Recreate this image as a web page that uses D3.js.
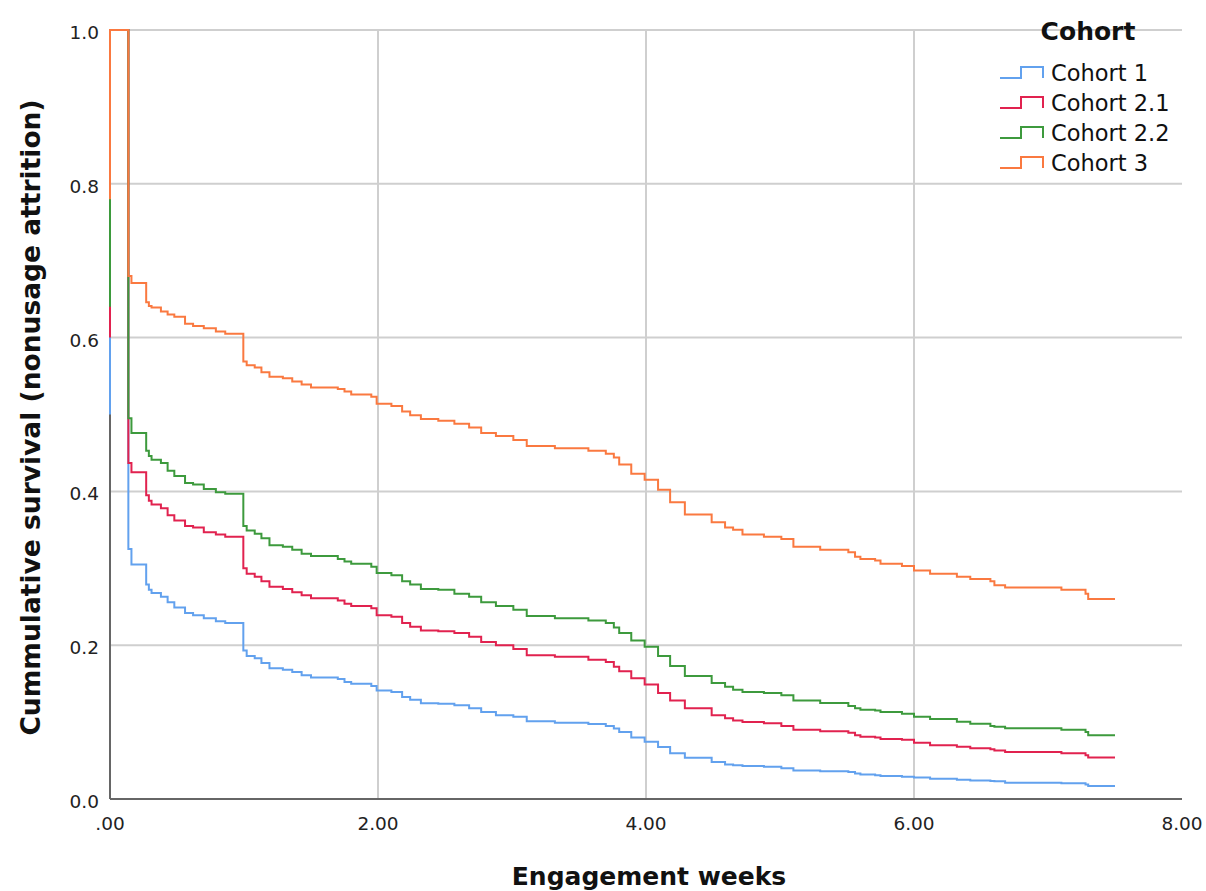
<!DOCTYPE html>
<html>
<head>
<meta charset="utf-8">
<script src="https://cdn.jsdelivr.net/npm/d3@7"></script>
<style>
  body { margin: 0; background: #fff; }
  svg { display: block; font-family: "DejaVu Sans", sans-serif; }
</style>
</head>
<body>
<svg id="chart"></svg>
<script>
const width = 1206;
const height = 891;

// event times (weeks) shared by all cohorts
const weeks = [0.137, 0.16, 0.27, 0.29, 0.31, 0.38, 0.43, 0.48, 0.56, 0.62, 0.70, 0.79, 0.86,
  0.995, 1.02, 1.08, 1.13, 1.19, 1.29, 1.36, 1.43, 1.50, 1.70, 1.75, 1.80, 1.95, 1.99,
  2.10, 2.18, 2.24, 2.32, 2.45, 2.57, 2.68, 2.77, 2.88, 3.01, 3.11, 3.32, 3.57, 3.70,
  3.76, 3.80, 3.89, 3.99, 4.09, 4.18, 4.29, 4.49, 4.59, 4.65, 4.72, 4.88, 5.01, 5.10,
  5.30, 5.51, 5.56, 5.60, 5.71, 5.75, 5.91, 6.00, 6.12, 6.32, 6.42, 6.57, 6.60, 6.68,
  7.10, 7.28, 7.30];
const lastWeek = 7.5;

const cohorts = ["Cohort 1", "Cohort 2.1", "Cohort 2.2", "Cohort 3"];
const colors = ["#62a1ee", "#e1224f", "#3d9a3d", "#fa7940"];
// survival at time zero (drop drawn on the y axis)
const startValues = [0.50, 0.60, 0.64, 0.78];

const cohort1 = [0.325, 0.305, 0.279, 0.272, 0.268, 0.263, 0.256, 0.249, 0.242, 0.239, 0.235, 0.231, 0.229,
  0.193, 0.186, 0.183, 0.177, 0.170, 0.168, 0.165, 0.161, 0.158, 0.156, 0.152, 0.150, 0.147, 0.141,
  0.139, 0.1325, 0.129, 0.1245, 0.124, 0.122, 0.118, 0.113, 0.109, 0.107, 0.101, 0.099, 0.0975, 0.095,
  0.0916, 0.087, 0.080, 0.0744, 0.0675, 0.0596, 0.0535, 0.048, 0.045, 0.044, 0.043, 0.042, 0.040, 0.037,
  0.036, 0.035, 0.033, 0.032, 0.031, 0.030, 0.029, 0.028, 0.0264, 0.025, 0.024, 0.0234, 0.023, 0.021,
  0.0204, 0.019, 0.017];
const cohort21 = [0.437, 0.425, 0.395, 0.388, 0.383, 0.378, 0.369, 0.362, 0.355, 0.353, 0.347, 0.344, 0.341,
  0.300, 0.293, 0.289, 0.283, 0.276, 0.273, 0.269, 0.265, 0.261, 0.258, 0.254, 0.251, 0.248, 0.239,
  0.237, 0.229, 0.224, 0.219, 0.218, 0.216, 0.211, 0.204, 0.200, 0.195, 0.187, 0.185, 0.181, 0.178,
  0.172, 0.166, 0.157, 0.149, 0.138, 0.128, 0.118, 0.109, 0.105, 0.102, 0.100, 0.0986, 0.095, 0.090,
  0.088, 0.086, 0.083, 0.081, 0.080, 0.078, 0.077, 0.073, 0.070, 0.068, 0.066, 0.0646, 0.063, 0.061,
  0.0594, 0.057, 0.054];
const cohort22 = [0.495, 0.476, 0.453, 0.446, 0.441, 0.437, 0.427, 0.420, 0.411, 0.409, 0.403, 0.399, 0.397,
  0.355, 0.349, 0.345, 0.339, 0.330, 0.328, 0.324, 0.319, 0.316, 0.312, 0.309, 0.306, 0.302, 0.294,
  0.291, 0.283, 0.279, 0.273, 0.272, 0.267, 0.263, 0.256, 0.251, 0.246, 0.238, 0.235, 0.232, 0.229,
  0.223, 0.216, 0.206, 0.198, 0.186, 0.173, 0.160, 0.151, 0.146, 0.142, 0.139, 0.138, 0.135, 0.128,
  0.125, 0.121, 0.118, 0.116, 0.115, 0.113, 0.111, 0.107, 0.104, 0.1005, 0.098, 0.095, 0.094, 0.092,
  0.090, 0.087, 0.083];
const cohort3 = [0.680, 0.671, 0.646, 0.641, 0.639, 0.634, 0.630, 0.627, 0.618, 0.615, 0.612, 0.608, 0.605,
  0.569, 0.564, 0.561, 0.555, 0.549, 0.547, 0.543, 0.539, 0.535, 0.533, 0.530, 0.526, 0.523, 0.514,
  0.511, 0.504, 0.499, 0.494, 0.492, 0.488, 0.483, 0.476, 0.472, 0.467, 0.459, 0.456, 0.453, 0.449,
  0.444, 0.435, 0.423, 0.415, 0.402, 0.386, 0.370, 0.360, 0.353, 0.350, 0.344, 0.341, 0.338, 0.328,
  0.324, 0.321, 0.315, 0.312, 0.310, 0.306, 0.303, 0.297, 0.293, 0.289, 0.286, 0.283, 0.278, 0.275,
  0.272, 0.267, 0.260];
const survival = [cohort1, cohort21, cohort22, cohort3];

const xTicks = [0, 2, 4, 6, 8];
const yTicks = [0, 0.2, 0.4, 0.6, 0.8, 1.0];

const svg = d3.select("#chart")
  .attr("width", width)
  .attr("height", height);

const x = d3.scaleLinear().domain([0, 8]).range([110, 1182]);
const y = d3.scaleLinear().domain([0, 1]).range([799, 30]);

// grid
const grid = svg.append("g").attr("stroke", "#cfcfcf").attr("stroke-width", 2);
grid.selectAll(".hg").data(yTicks.filter(d => d > 0)).join("line")
  .attr("x1", x(0)).attr("x2", x(8))
  .attr("y1", d => y(d)).attr("y2", d => y(d));
grid.selectAll(".vg").data(xTicks.filter(d => d > 0 && d < 8)).join("line")
  .attr("x1", d => x(d)).attr("x2", d => x(d))
  .attr("y1", y(0)).attr("y2", y(1));

// axes
svg.append("line").attr("x1", x(0)).attr("x2", x(8)).attr("y1", y(0)).attr("y2", y(0))
  .attr("stroke", "#666").attr("stroke-width", 2);
svg.append("line").attr("x1", x(0)).attr("x2", x(0)).attr("y1", y(0)).attr("y2", y(1))
  .attr("stroke", "#666").attr("stroke-width", 2);

svg.append("g").selectAll("text").data(yTicks).join("text")
  .attr("x", 99).attr("y", d => y(d) + 9)
  .attr("text-anchor", "end")
  .attr("font-size", 18.5).attr("fill", "#222")
  .text(d => d3.format(".1f")(d));

svg.append("g").selectAll("text").data(xTicks).join("text")
  .attr("x", d => x(d)).attr("y", 830)
  .attr("text-anchor", "middle")
  .attr("font-size", 18.5).attr("fill", "#222")
  .text(d => d === 0 ? ".00" : d3.format(".2f")(d));

svg.append("text")
  .attr("transform", `translate(40,${y(0.5) + 3}) rotate(-90)`)
  .attr("text-anchor", "middle")
  .attr("font-size", 26.5).attr("font-weight", "bold").attr("fill", "#111")
  .text("Cummulative survival (nonusage attrition)");

svg.append("text")
  .attr("x", 649).attr("y", 885)
  .attr("text-anchor", "middle")
  .attr("font-size", 25).attr("font-weight", "bold").attr("fill", "#111")
  .text("Engagement weeks");

// survival curves
const line = d3.line()
  .x(d => x(d[0]))
  .y(d => y(d[1]))
  .curve(d3.curveStepAfter);

const series = cohorts.map((name, i) => {
  const vals = survival[i];
  const pts = [[0, startValues[i]], [0, 1]]
    .concat(weeks.map((w, j) => [w, vals[j]]))
    .concat([[lastWeek, vals[vals.length - 1]]]);
  return { name, color: colors[i], pts };
});

svg.append("g").attr("fill", "none").attr("stroke-width", 2)
  .selectAll("path").data(series).join("path")
  .attr("stroke", d => d.color)
  .attr("d", d => line(d.pts));

// legend
const legend = svg.append("g");
legend.append("text")
  .attr("x", 1088).attr("y", 40)
  .attr("text-anchor", "middle")
  .attr("font-size", 25).attr("font-weight", "bold").attr("fill", "#111")
  .text("Cohort");

const item = legend.selectAll(".item").data(series).join("g")
  .attr("transform", (d, i) => `translate(1000,${73 + i * 30})`);
item.append("path")
  .attr("fill", "none").attr("stroke-width", 2)
  .attr("stroke", d => d.color)
  .attr("d", "M0,5H21V-6H43V5");
item.append("text")
  .attr("x", 51).attr("y", 8)
  .attr("font-size", 22.5).attr("fill", "#111")
  .text(d => d.name);
</script>
</body>
</html>
